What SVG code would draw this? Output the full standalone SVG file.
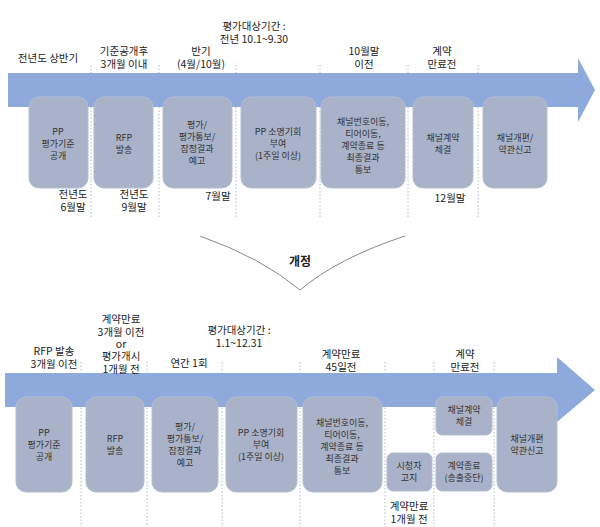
<svg xmlns="http://www.w3.org/2000/svg" width="600" height="527" viewBox="0 0 600 527">
<style>
text{font-family:"Noto Sans CJK KR","Liberation Sans",sans-serif;font-size:10.5px;fill:#222;text-anchor:middle}
.b text{font-size:9px;fill:#333}
.box{fill:#a9b2c8;stroke:#b4bdd0}
.dot{stroke:#9aa6bb;stroke-width:0.8;stroke-dasharray:1.5 2;fill:none}
.band{fill:#8eaadc}
</style>
<rect width="600" height="527" fill="#fff"/>
<g id="arrows">
<path class="band" d="M8,73 H578 V58 L595,90 L578,122 V107 H8 Z"/>
<path class="band" d="M5,373 H557 V357 L595,390 L557,422 V407 H5 Z"/>
<path d="M200,236 Q262,258 300,290 Q338,258 405,236" fill="none" stroke="#888" stroke-width="1"/>
<path class="dot" d="M91,65V218M159,65V218M236,65V218M320,65V218M408,65V218M478,65V218"/>
<path class="dot" d="M81,362V527M147,362V527M222,362V527M300,362V527M385,362V527M434,362V527M494,362V527"/>
</g>
<g class="b">
<g id="t1"><rect class="box" x="29" y="97" width="59" height="91" rx="10"/><text x="58" y="135">PP</text><text x="58" y="147">평가기준</text><text x="58" y="159">공개</text></g>
<g id="t2"><rect class="box" x="94" y="97" width="59" height="91" rx="10"/><text x="124" y="141">RFP</text><text x="124" y="153">발송</text></g>
<g id="t3"><rect class="box" x="163" y="97" width="69" height="91" rx="10"/><text x="197" y="128">평가/</text><text x="197" y="140">평가통보/</text><text x="197" y="152">잠정결과</text><text x="197" y="164">예고</text></g>
<g id="t4"><rect class="box" x="241" y="97" width="75" height="91" rx="10"/><text x="278" y="135">PP 소명기회</text><text x="278" y="147">부여</text><text x="278" y="159">(1주일 이상)</text></g>
<g id="t5"><rect class="box" x="321" y="97" width="84" height="91" rx="10"/><text x="363" y="125">채널번호이동,</text><text x="363" y="137">티어이동,</text><text x="363" y="149">계약종료 등</text><text x="363" y="161">최종결과</text><text x="363" y="173">통보</text></g>
<g id="t6"><rect class="box" x="413" y="97" width="60" height="91" rx="10"/><text x="443" y="141">채널계약</text><text x="443" y="153">체결</text></g>
<g id="t7"><rect class="box" x="483" y="97" width="64" height="91" rx="10"/><text x="515" y="141">채널개편/</text><text x="515" y="153">약관신고</text></g>
<g id="u1"><rect class="box" x="16" y="397" width="56" height="95" rx="10"/><text x="44" y="436">PP</text><text x="44" y="448">평가기준</text><text x="44" y="460">공개</text></g>
<g id="u2"><rect class="box" x="86" y="397" width="58" height="95" rx="10"/><text x="115" y="442">RFP</text><text x="115" y="454">발송</text></g>
<g id="u3"><rect class="box" x="152" y="397" width="66" height="95" rx="10"/><text x="185" y="430">평가/</text><text x="185" y="442">평가통보/</text><text x="185" y="454">잠정결과</text><text x="185" y="466">예고</text></g>
<g id="u4"><rect class="box" x="226" y="397" width="71" height="95" rx="10"/><text x="261" y="436">PP 소명기회</text><text x="261" y="448">부여</text><text x="261" y="460">(1주일 이상)</text></g>
<g id="u5"><rect class="box" x="303" y="397" width="79" height="95" rx="10"/><text x="342" y="426">채널번호이동,</text><text x="342" y="438">티어이동,</text><text x="342" y="450">계약종료 등</text><text x="342" y="462">최종결과</text><text x="342" y="474">통보</text></g>
<g id="u6"><rect class="box" x="387" y="453" width="45" height="38" rx="6"/><text x="409" y="469">시청자</text><text x="409" y="481">고지</text></g>
<g id="u7"><rect class="box" x="436" y="397" width="56" height="38" rx="6"/><text x="464" y="413">채널계약</text><text x="464" y="425">체결</text></g>
<g id="u8"><rect class="box" x="436" y="453" width="56" height="38" rx="6"/><text x="464" y="469">계약종료</text><text x="464" y="481">(송출중단)</text></g>
<g id="u9"><rect class="box" x="497" y="397" width="60" height="95" rx="10"/><text x="527" y="442">채널개편</text><text x="527" y="454">약관신고</text></g>
</g>
<g id="labels">
<text x="48" y="62">전년도 상반기</text>
<text x="124" y="55">기준공개후</text><text x="124" y="68">3개월 이내</text>
<text x="201" y="55">반기</text><text x="201" y="68">(4월/10월)</text>
<text x="254" y="30">평가대상기간 :</text><text x="254" y="43">전년 10.1~9.30</text>
<text x="364" y="55">10월말</text><text x="364" y="68">이전</text>
<text x="442" y="55">계약</text><text x="442" y="68">만료전</text>
<text x="73" y="198">전년도</text><text x="73" y="211">6월말</text>
<text x="134" y="198">전년도</text><text x="134" y="211">9월말</text>
<text x="218" y="200">7월말</text>
<text x="450" y="202">12월말</text>
<text x="300" y="266" style="font-weight:bold;font-size:12px">개정</text>
<text x="54" y="355">RFP 발송</text><text x="54" y="368">3개월 이전</text>
<text x="121" y="323">계약만료</text><text x="121" y="336">3개월 이전</text><text x="121" y="348">or</text><text x="121" y="360">평가개시</text><text x="121" y="373">1개월 전</text>
<text x="189" y="367">연간 1회</text>
<text x="239" y="334">평가대상기간 :</text><text x="239" y="347">1.1~12.31</text>
<text x="341" y="358">계약만료</text><text x="341" y="371">45일전</text>
<text x="465" y="358">계약</text><text x="465" y="371">만료전</text>
<text x="409" y="510">계약만료</text><text x="409" y="523">1개월 전</text>
</g>
</svg>
